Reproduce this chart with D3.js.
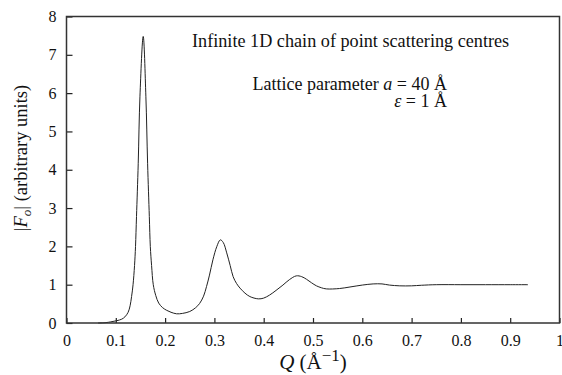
<!DOCTYPE html>
<html>
<head>
<meta charset="utf-8">
<title>Infinite 1D chain</title>
<script src="https://cdn.jsdelivr.net/npm/d3@7"></script>
<style>
  body { margin: 0; background: #fff; }
  svg text { font-family: "Liberation Serif", "Times New Roman", serif; fill: #111; }
</style>
</head>
<body>
<div id="chart"></div>
<script>
// values
var qValues = [0.064, 0.08, 0.09, 0.102, 0.112, 0.1185, 0.125, 0.129, 0.132, 0.135, 0.138, 0.140, 0.142, 0.1455,
  0.149, 0.1556, 0.161, 0.1645, 0.168, 0.170, 0.1726, 0.176, 0.181, 0.187, 0.195, 0.2033, 0.212, 0.2233, 0.235,
  0.25, 0.262, 0.27, 0.278, 0.284, 0.29, 0.297, 0.305, 0.312, 0.318, 0.325, 0.332, 0.338, 0.345, 0.352, 0.362,
  0.372, 0.389, 0.40, 0.412, 0.425, 0.439, 0.452, 0.466, 0.477, 0.487, 0.497, 0.507, 0.517, 0.527, 0.554, 0.575,
  0.60, 0.622, 0.64, 0.655, 0.676, 0.70, 0.72, 0.75, 0.80, 0.85, 0.90, 0.936];
var fValues = [0.0, 0.01, 0.03, 0.06, 0.10, 0.16, 0.28, 0.45, 0.69, 1.0, 1.5, 2.0, 2.78, 4.17,
  5.92, 7.48, 5.92, 4.17, 2.78, 2.0, 1.5, 1.0, 0.72, 0.52, 0.40, 0.33, 0.28, 0.24, 0.25,
  0.30, 0.40, 0.51, 0.70, 0.95, 1.25, 1.65, 2.0, 2.17, 2.1, 1.83, 1.5, 1.21, 1.03, 0.91, 0.78,
  0.69, 0.63, 0.65, 0.73, 0.85, 0.99, 1.13, 1.23, 1.21, 1.14, 1.05, 0.97, 0.92, 0.89, 0.90, 0.94,
  0.99, 1.02, 1.02, 0.99, 0.97, 0.97, 0.985, 1.0, 1.0, 1.0, 1.0, 1.0];
var xTicks = [0, 0.1, 0.2, 0.3, 0.4, 0.5, 0.6, 0.7, 0.8, 0.9, 1];
var yTicks = [0, 1, 2, 3, 4, 5, 6, 7, 8];

var w = 562, h = 375;
var mLeft = 66.5, mRight = 559.5, mTop = 16.5, mBottom = 323;
var serif = "'Liberation Serif', 'Times New Roman', serif";

var svg = d3.select("#chart").append("svg")
    .attr("width", w)
    .attr("height", h)
    .attr("font-family", serif);

var x = d3.scaleLinear().domain([0, 1]).range([mLeft, mRight]);
var y = d3.scaleLinear().domain([0, 8]).range([mBottom, mTop]);

var points = qValues.map(function(q, i) { return [q, fValues[i]]; });

var line = d3.line()
    .x(function(d) { return x(d[0]); })
    .y(function(d) { return y(Math.max(0, d[1])); })
    .curve(d3.curveCatmullRom.alpha(0.5));

svg.append("path")
    .datum(points)
    .attr("d", line)
    .attr("fill", "none")
    .attr("stroke", "#222")
    .attr("stroke-width", 1);

// axes with inward ticks
var xAxis = svg.append("g")
    .attr("transform", "translate(0," + mBottom + ")")
    .call(d3.axisBottom(x).tickValues(xTicks).tickSizeInner(-5).tickSizeOuter(0).tickPadding(12)
        .tickFormat(function(d) { return (d === 0 || d === 1) ? d : d.toFixed(1); }));

var yAxis = svg.append("g")
    .attr("transform", "translate(" + mLeft + ",0)")
    .call(d3.axisLeft(y).tickValues(yTicks).tickSizeInner(-6).tickSizeOuter(0).tickPadding(10));

[xAxis, yAxis].forEach(function(g) {
  g.attr("font-family", serif).attr("font-size", 16);
  g.select(".domain").remove();
  g.selectAll(".tick line").attr("stroke", "#222").attr("stroke-width", 1.2);
  g.selectAll(".tick text").attr("fill", "#111");
});

// frame
svg.append("rect")
    .attr("x", mLeft).attr("y", mTop)
    .attr("width", mRight - mLeft).attr("height", mBottom - mTop)
    .attr("fill", "none")
    .attr("stroke", "#333")
    .attr("stroke-width", 1.5);

// axis titles
var xt = svg.append("text")
    .attr("x", 313).attr("y", 369)
    .attr("text-anchor", "middle")
    .attr("font-size", 21);
xt.append("tspan").style("font-style", "italic").text("Q");
xt.append("tspan").text(" (Å");
xt.append("tspan").attr("dy", -8).attr("font-size", 17).text("−1");
xt.append("tspan").attr("dy", 8).text(")");

var yt = svg.append("text")
    .attr("transform", "translate(27,158) rotate(-90)")
    .attr("text-anchor", "middle")
    .attr("font-size", 18.5);
yt.append("tspan").text("|");
yt.append("tspan").style("font-style", "italic").text("F");
yt.append("tspan").attr("dy", 4).attr("font-size", 13).style("font-style", "italic").text("o");
yt.append("tspan").attr("dy", -4).text("|  (arbitrary units)");

// annotations
svg.append("text")
    .attr("x", 192).attr("y", 47)
    .attr("font-size", 18.2)
    .text("Infinite 1D chain of point scattering centres");

var l1 = svg.append("text")
    .attr("x", 447).attr("y", 90)
    .attr("text-anchor", "end")
    .attr("font-size", 18);
l1.append("tspan").text("Lattice parameter ");
l1.append("tspan").style("font-style", "italic").text("a");
l1.append("tspan").text(" = 40 Å");

var l2 = svg.append("text")
    .attr("x", 447).attr("y", 107)
    .attr("text-anchor", "end")
    .attr("font-size", 18);
l2.append("tspan").style("font-style", "italic").text("ε");
l2.append("tspan").text(" = 1 Å");
</script>
</body>
</html>
